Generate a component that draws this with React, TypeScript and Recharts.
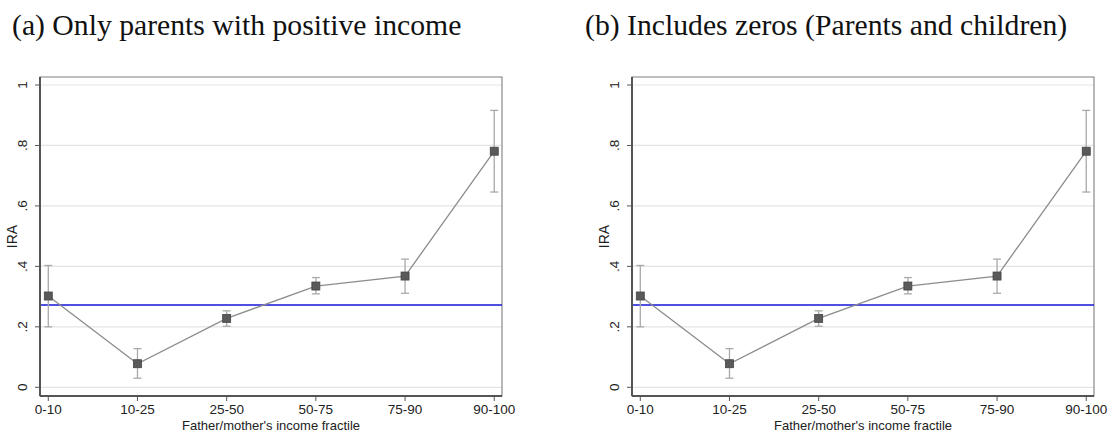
import React from "react";
import {
  ComposedChart, Line, ErrorBar, XAxis, YAxis, CartesianGrid,
  ReferenceLine, ReferenceArea,
} from "recharts";

// income fractiles of the parent
const fractiles = ["0-10", "10-25", "25-50", "50-75", "75-90", "90-100"];

// (a) only parents with positive income
const positiveIra = [0.302, 0.078, 0.228, 0.335, 0.368, 0.781];
const positiveLow = [0.2, 0.03, 0.202, 0.309, 0.311, 0.646];
const positiveHigh = [0.403, 0.128, 0.253, 0.363, 0.424, 0.916];
const positiveMean = 0.272;

// (b) zeros kept for parents and children
const zerosIra = [0.302, 0.078, 0.228, 0.335, 0.368, 0.781];
const zerosLow = [0.2, 0.03, 0.202, 0.309, 0.311, 0.646];
const zerosHigh = [0.403, 0.128, 0.253, 0.363, 0.424, 0.916];
const zerosMean = 0.272;

const yTicks = [0, 0.2, 0.4, 0.6, 0.8, 1];
const X_DOMAIN: [number, number] = [-0.093, 5.087];
const Y_DOMAIN: [number, number] = [-0.0288, 1.0265];

const SANS = "'Liberation Sans', Arial, sans-serif";
const AXIS = "#555";

const fmtY = (v: number) => (v === 0 ? "0" : v === 1 ? "1" : String(v).replace(/^0/, ""));

function YTick(p: any) {
  const cx = p.x - 13;
  return (
    <text
      transform={`translate(${cx + 4.8}, ${p.y}) rotate(-90)`}
      textAnchor="middle"
      fontSize={13.5}
      fontFamily={SANS}
      fill="#222"
    >
      {fmtY(p.payload.value)}
    </text>
  );
}

function Square(p: any) {
  if (p.cx == null || p.cy == null) return <g key={p.index} />;
  return (
    <rect key={p.index} x={p.cx - 4} y={p.cy - 4} width={8} height={8}
      fill="#5a5a5a" stroke="#444" strokeWidth={0.8} />
  );
}

interface PanelProps {
  ira: number[];
  low: number[];
  high: number[];
  mean: number;
}

function Panel({ ira, low, high, mean }: PanelProps) {
  const data = ira.map((v, i) => ({ x: i, ira: v, err: [v - low[i], high[i] - v] }));
  return (
    <ComposedChart width={517} height={431} data={data}
      margin={{ top: 77, right: 15, bottom: 0, left: 0 }}>
      <CartesianGrid vertical={false} stroke="#e4e4e4" strokeWidth={1.2} />
      <ReferenceArea x1={X_DOMAIN[0]} x2={X_DOMAIN[1]} y1={Y_DOMAIN[0]} y2={Y_DOMAIN[1]}
        fill="none" stroke="#8a8a8a" strokeWidth={1.2} ifOverflow="visible" />
      <XAxis type="number" dataKey="x" domain={X_DOMAIN} ticks={[0, 1, 2, 3, 4, 5]}
        allowDataOverflow height={35} tickSize={5} tickMargin={3}
        tickFormatter={(i: number) => fractiles[i]}
        axisLine={{ stroke: AXIS, strokeWidth: 2 }} tickLine={{ stroke: AXIS }}
        tick={{ fontSize: 13.5, fontFamily: SANS, fill: "#222" }}
        label={({ viewBox }: any) => (
          <text x={viewBox.x + viewBox.width / 2} y={429.5} textAnchor="middle"
            fontSize={13} fontFamily={SANS} fill="#222">
            Father/mother's income fractile
          </text>
        )}
      />
      <YAxis type="number" domain={Y_DOMAIN} ticks={yTicks} allowDataOverflow
        width={40} tickSize={5} tickMargin={0} tick={<YTick />}
        axisLine={{ stroke: AXIS, strokeWidth: 2 }} tickLine={{ stroke: AXIS }}
        label={({ viewBox }: any) => (
          <text transform={`translate(17, ${viewBox.y + viewBox.height / 2}) rotate(-90)`}
            textAnchor="middle" fontSize={14} fontFamily={SANS} fill="#222">
            IRA
          </text>
        )}
      />
      <ReferenceLine y={mean} stroke="#1515d6" strokeWidth={1.4} ifOverflow="extendDomain" />
      <Line dataKey="ira" stroke="#8c8c8c" strokeWidth={1.3} dot={<Square />}
        activeDot={false} isAnimationActive={false}>
        <ErrorBar dataKey="err" direction="y" width={4} stroke="#a9a9a9" strokeWidth={1.3} />
      </Line>
    </ComposedChart>
  );
}

const titleStyle: React.CSSProperties = {
  position: "absolute",
  top: 11,
  fontFamily: "'Liberation Serif', 'DejaVu Serif', serif",
  fontSize: 29.7,
  lineHeight: "29.7px",
  color: "#111",
  whiteSpace: "nowrap",
};

export default function App() {
  return (
    <div style={{ position: "absolute", left: 0, top: 0, width: 1109, height: 431, background: "#fff", overflow: "hidden" }}>
      <div style={{ ...titleStyle, left: 12 }}>(a) Only parents with positive income</div>
      <div style={{ ...titleStyle, left: 585 }}>(b) Includes zeros (Parents and children)</div>
      <div style={{ position: "absolute", left: 0, top: 0 }}>
        <Panel ira={positiveIra} low={positiveLow} high={positiveHigh} mean={positiveMean} />
      </div>
      <div style={{ position: "absolute", left: 592, top: 0 }}>
        <Panel ira={zerosIra} low={zerosLow} high={zerosHigh} mean={zerosMean} />
      </div>
    </div>
  );
}
